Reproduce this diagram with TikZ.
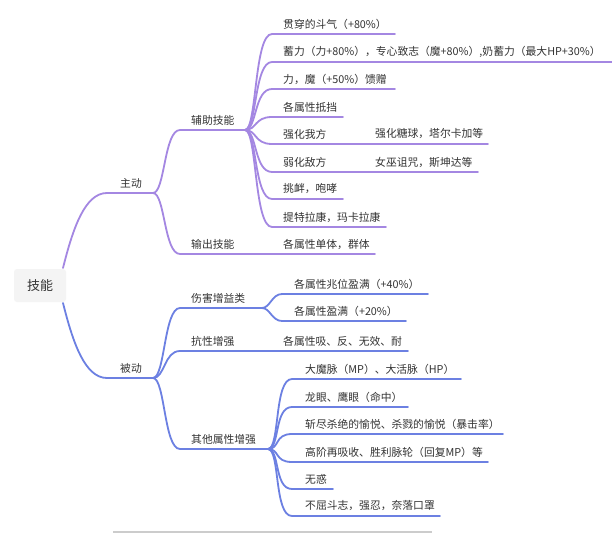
\documentclass[tikz,border=0pt]{standalone}
\usepackage{fontspec}
\setmainfont{Noto Sans CJK SC}
\definecolor{pur}{HTML}{A487E2}
\definecolor{blu}{HTML}{6C80E2}
\definecolor{txt}{HTML}{333333}
\definecolor{rootbg}{HTML}{F4F4F4}
\tikzset{
  leaf/.style={anchor=west, inner sep=0pt, text=txt, font=\fontsize{10.8}{12}\selectfont},
  pl/.style={draw=pur, line width=1.8pt, line cap=round},
  bl/.style={draw=blu, line width=1.8pt, line cap=round},
}
\begin{document}
\begin{tikzpicture}[x=1pt,y=-1pt]
\useasboundingbox[fill=white] (0,0) rectangle (612,534);
% root
\node[fill=rootbg, rounded corners=3pt, minimum width=52pt, minimum height=33pt, inner sep=0pt, text=txt, font=\fontsize{13}{15}\selectfont] (root) at (40,285.5) {技能};
\coordinate (rt) at (63,268);
\coordinate (rb) at (63,303);
% level 1
\coordinate (zds) at (107,193); \coordinate (zd) at (153,193);
\coordinate (bds) at (107,378); \coordinate (bd) at (153,378);
\node[leaf] (zdt) at (120,183) {主动};
\node[leaf] (bdt) at (120,368) {被动};
\draw[pl] (rt) .. controls (73,228) and (85,193) .. (zds) -- (zd);
\draw[bl] (rb) .. controls (73,343) and (85,378) .. (bds) -- (bd);
% level 2 active
\coordinate (fzs) at (180,130); \coordinate (fz) at (245,130);
\coordinate (scs) at (180,254); \coordinate (sce) at (375,254);
\node[leaf] (fzt) at (191,120) {辅助技能};
\node[leaf] (sct) at (191,244) {输出技能};
\node[leaf] (sc1) at (283,244) {各属性单体，群体};
\draw[pl] (zd) .. controls +(12,0) and +(-16,0) .. (fzs) -- (fz);
\draw[pl] (zd) .. controls +(12,0) and +(-16,0) .. (scs) -- (sce);
% level 2 passive
\coordinate (shs) at (180,308); \coordinate (sh) at (262,308);
\coordinate (kxs) at (180,351); \coordinate (kxe) at (408,351);
\coordinate (qts) at (180,449); \coordinate (qt) at (268,449);
\node[leaf] (sht) at (191,298) {伤害增益类};
\node[leaf] (kxt) at (191,341) {抗性增强};
\node[leaf] (kx1) at (283,341) {各属性吸、反、无效、耐};
\node[leaf] (qtt) at (191,439) {其他属性增强};
\draw[bl] (bd) .. controls +(12,0) and +(-16,0) .. (shs) -- (sh);
\draw[bl] (bd) .. controls +(12,0) and +(-16,0) .. (kxs) -- (kxe);
\draw[bl] (bd) .. controls +(12,0) and +(-16,0) .. (qts) -- (qt);
% children of 辅助技能
\foreach \n/\y/\e/\t in {
  a1/34/395/{贯穿的斗气（+80\%）},
  a2/62/612/{蓄力（力+80\%），专心致志（魔+80\%）,奶蓄力（最大HP+30\%）},
  a3/89/395/{力，魔（+50\%）馈赠},
  a4/117/343/{各属性抵挡},
  a5/144/488/{强化我方},
  a6/172/478/{弱化敌方},
  a7/199/343/{挑衅，咆哮},
  a8/227/386/{提特拉康，玛卡拉康}}{
  \coordinate (\n s) at (272,\y);
  \coordinate (\n e) at (\e,\y);
  \node[leaf] (\n) at (283,\y-10) {\t};
  \draw[pl] (fz) .. controls +(12,0) and +(-18,0) .. (\n s) -- (\n e);
}
\node[leaf] (a5b) at (375,134) {强化糖球，塔尔卡加等};
\node[leaf] (a6b) at (375,162) {女巫诅咒，斯坤达等};
% children of 伤害增益类
\foreach \n/\y/\e/\t in {
  b1/294/428/{各属性兆位盈满（+40\%）},
  b2/321/406/{各属性盈满（+20\%）}}{
  \coordinate (\n s) at (282,\y);
  \coordinate (\n e) at (\e,\y);
  \node[leaf] (\n) at (294,\y-10) {\t};
  \draw[bl] (sh) .. controls +(8,0) and +(-10,0) .. (\n s) -- (\n e);
}
% children of 其他属性增强
\foreach \n/\y/\e/\t in {
  c1/379/461/{大魔脉（MP）、大活脉（HP）},
  c2/407/408/{龙眼、鹰眼（命中）},
  c3/434/503/{斩尽杀绝的愉悦、杀戮的愉悦（暴击率）},
  c4/462/488/{高阶再吸收、胜利脉轮（回复MP）等},
  c5/489/333/{无惑},
  c6/516/440/{不屈斗志，强忍，奈落口罩}}{
  \coordinate (\n s) at (292,\y);
  \coordinate (\n e) at (\e,\y);
  \node[leaf] (\n) at (305,\y-10) {\t};
  \draw[bl] (qt) .. controls +(12,0) and +(-18,0) .. (\n s) -- (\n e);
}
% bottom bar
\coordinate (bar1) at (113,532);
\coordinate (bar2) at (432,532);
\draw[draw=black!20, line width=2.5pt] (bar1) -- (bar2);
\end{tikzpicture}
\end{document}
